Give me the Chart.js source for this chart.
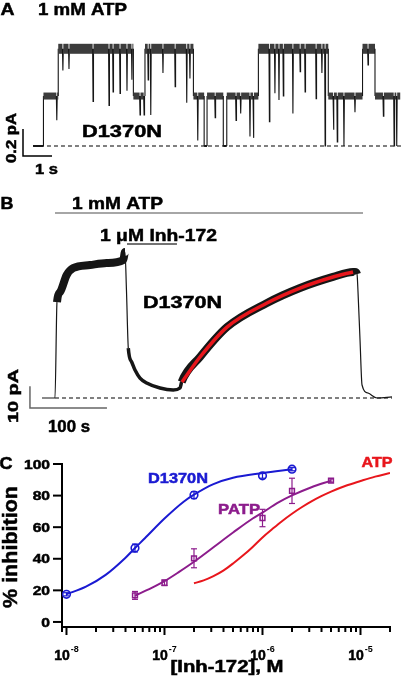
<!DOCTYPE html>
<html lang="en">
<head>
<meta charset="UTF-8">
<title>D1370N and Inh-172</title>
<script src="https://cdn.jsdelivr.net/npm/chart.js@4.4.1/dist/chart.umd.min.js"></script>
<style>
  body { margin: 0; background: #fff; }
  #fig { position: relative; width: 404px; height: 677px; overflow: hidden; }
  canvas { position: absolute; left: 0; }
</style>
</head>
<body>
<div id="fig">
  <canvas id="panelA" width="404" height="175" style="top:0"></canvas>
  <canvas id="panelB" width="404" height="260" style="top:175px"></canvas>
  <canvas id="panelC" width="404" height="242" style="top:435px"></canvas>
</div>
<script>
// ---- A: single channel record, time in s, current in pA ----
const aDwellStart = [0, 0.36, 0.87, 3.46, 3.86, 5.53, 5.90, 6.00, 6.56, 6.68, 7.77, 10.18, 11.36, 11.79];
const aDwellEnd   = [0.36, 0.87, 3.46, 3.86, 5.53, 5.90, 6.00, 6.56, 6.68, 7.77, 10.18, 11.36, 11.79, 12.66];
const aDwellLevel = [0, 0.37, 0.72, 0.37, 0.72, 0.37, 0, 0.37, 0, 0.37, 0.72, 0.37, 0.72, 0.37];
// brief closures: time and the current they dip to
const aFlickTime  = [0.82, 1.03, 1.24, 2.07, 2.62, 2.76, 3.00, 3.24, 3.41, 3.69, 3.83, 3.97, 4.06, 4.48,
                     4.90, 5.30, 5.41, 5.68, 6.28, 7.00, 7.16, 7.48, 7.60, 8.15, 8.34, 8.48, 8.63, 8.96,
                     9.21, 9.38, 9.76, 9.96, 10.07, 10.36, 10.49, 10.72, 11.10, 11.55, 12.08, 12.45, 12.54];
const aFlickDepth = [0.19, 0.56, 0.57, 0.33, 0.30, 0.40, 0.39, 0.41, 0.49, 0.23, 0.23, 0.49, 0.23, 0.54,
                     0.44, 0.32, 0.50, 0.04, 0.21, 0.19, 0.24, 0.07, 0.06, 0.18, 0.39, 0.34, 0.37, 0.24,
                     0.55, 0.40, 0.35, 0.54, 0.00, 0.12, 0.03, 0.00, 0.25, 0.60, 0.22, 0.00, 0.00];
const aBarTime = 1;      // s
const aBarCurrent = 0.2; // pA

// ---- B: macroscopic current, time in s, current in pA ----
const bTime    = [0, 16.9, 19.5, 23.4, 32.1, 40.6, 62.3, 84.0, 105.6, 107.8, 109.7, 112.1, 116.5, 120.8,
                  127.3, 136.0, 153.2, 170.5, 179.2, 181.4, 205.2, 240.3, 292.2, 335.1, 377.9, 403.9,
                  406.5, 409.1, 410.4, 413.0, 415.6, 423.4, 435.1, 454.5];
const bCurrent = [0, 0, 44.2, 48.8, 56.7, 59.9, 61.3, 62.2, 63.6, 67.3, 49.8, 23.0, 16.6, 12.9,
                  9.2, 6.9, 4.6, 3.7, 4.6, 7.4, 18.9, 32.7, 43.8, 50.7, 55.8, 58.1,
                  58.1, 57.1, 48.8, 26.7, 6.0, 2.3, 0, 0.5];
const bFitTime    = [181.8, 205.2, 240.3, 292.2, 335.1, 377.9, 403.9];
const bFitCurrent = [7.4, 18.9, 32.7, 43.8, 50.7, 55.8, 58.1];
const bAtpOn = 16.9, bAtpOff = 416.9;
const bInhOn = 110.4, bInhOff = 175.3;
const bBarTime = 100, bBarCurrent = 10;

// ---- C: dose response, % inhibition vs [Inh-172] (M) ----
const cD1370NConc = [1e-8, 5e-8, 2e-7, 1e-6, 2e-6];
const cD1370N     = [17.5, 46.8, 80.3, 92.5, 96.7];
const cD1370NErr  = [1, 2.5, 2.2, 1.5, 1];
const cPatpConc   = [5e-8, 1e-7, 2e-7, 1e-6, 2e-6, 5e-6];
const cPatp       = [16.8, 24.8, 40.3, 65.8, 83, 89.5];
const cPatpErr    = [2.5, 1.8, 6, 5.5, 8, 1];
const cD1370NFitConc = [1e-8, 1.58e-8, 2.51e-8, 3.98e-8, 5e-8, 6.31e-8, 1e-7, 1.58e-7, 2e-7, 3.16e-7, 5.01e-7, 1e-6, 2e-6];
const cD1370NFit     = [17.5, 22.3, 29.8, 40.5, 46.8, 53, 65.5, 76.3, 80.6, 87.3, 91.3, 94.3, 96.7];
const cPatpFitConc = [5e-8, 7.94e-8, 1e-7, 1.41e-7, 2e-7, 3.16e-7, 5.01e-7, 7.94e-7, 1e-6, 1.41e-6, 2e-6, 3.16e-6, 5e-6];
const cPatpFit     = [16.6, 22.5, 25.8, 31.7, 38.1, 47.3, 56.6, 65.5, 69.2, 75.2, 80.1, 85.3, 89.5];
const cAtpFitConc = [2e-7, 2.51e-7, 3.16e-7, 3.98e-7, 5.01e-7, 6.31e-7, 7.94e-7, 1e-6, 1.26e-6, 1.58e-6,
                     2e-6, 2.51e-6, 3.16e-6, 3.98e-6, 5.01e-6, 7.08e-6, 1e-5, 1.41e-5, 2e-5];
const cAtpFit     = [24.5, 26.3, 29, 32.5, 37, 42, 47.5, 53.5, 58.8, 63.8,
                     68.5, 72.6, 76.3, 79.6, 82.5, 86.2, 89.2, 92, 94.3];
const cYTicks = [0, 20, 40, 60, 80, 100];
const cXMajor = [1e-8, 1e-7, 1e-6, 1e-5];

const INK = '#161616';
const BLUE = '#1a1ad2', PURPLE = '#8c1c8c', RED = '#e8161c';
const FONT = '"Liberation Sans", Arial, sans-serif';

function pairs(xs, ys) { return xs.map((x, i) => ({ x: x, y: ys[i] })); }

function scaleBar(x0, y0, dx, dy) {
  return [{ x: x0, y: y0 + dy }, { x: x0, y: y0 }, { x: x0 + dx, y: y0 }];
}

function drawText(ctx, txt, cx, cy, size, opt) {
  opt = opt || {};
  ctx.save();
  ctx.font = 'bold ' + size + 'px ' + FONT;
  ctx.fillStyle = opt.color || '#000';
  ctx.strokeStyle = opt.color || '#000';
  ctx.lineWidth = 0.5;
  ctx.textAlign = 'center';
  ctx.textBaseline = 'alphabetic';
  const w = ctx.measureText(txt).width;
  const s = opt.width ? opt.width / w : (opt.sx || 1);
  let x = cx;
  if (opt.right !== undefined) x = opt.right - w * s / 2;
  ctx.translate(x, cy);
  if (opt.rot) ctx.rotate(opt.rot);
  ctx.scale(s, 1);
  ctx.fillText(txt, 0, size * 0.36);
  ctx.strokeText(txt, 0, size * 0.36);
  ctx.restore();
}

function traceOptions(xmin, xmax, ymin, ymax) {
  return {
    responsive: false, animation: false, events: [],
    layout: { padding: 0 },
    plugins: { legend: { display: false }, tooltip: { enabled: false } },
    elements: { point: { radius: 0 } },
    scales: {
      x: { type: 'linear', display: false, min: xmin, max: xmax },
      y: { type: 'linear', display: false, min: ymin, max: ymax }
    }
  };
}

// ---------- panel A ----------
function buildTraceA() {
  const pts = [];
  aDwellStart.forEach((s, i) => {
    const lv = aDwellLevel[i];
    pts.push({ x: s, y: lv });
    aFlickTime.forEach((t, k) => {
      if (t > s && t < aDwellEnd[i]) {
        pts.push({ x: t - 0.015, y: lv }, { x: t, y: aFlickDepth[k] }, { x: t + 0.015, y: lv });
      }
    });
    pts.push({ x: aDwellEnd[i], y: lv });
  });
  return pts;
}

new Chart(document.getElementById('panelA'), {
  type: 'line',
  data: {
    datasets: [
      {
        data: buildTraceA(), borderColor: INK, borderWidth: 1.1, tension: 0,
        segment: {
          borderWidth: c => {
            const y0 = c.p0.parsed.y;
            if (y0 !== c.p1.parsed.y) return 1.1;
            return y0 > 0.5 ? 10 : (y0 > 0.2 ? 7 : 2);
          },
          borderColor: c => (c.p0.parsed.y === c.p1.parsed.y && c.p0.parsed.y > 0.2 ? '#3c3c3c' : INK)
        }
      },
      { data: [{ x: 0.24, y: 0 }, { x: 12.8, y: 0 }], borderColor: '#000', borderWidth: 1.2, borderDash: [4, 3] },
      { data: scaleBar(-0.345, -0.074, aBarTime, aBarCurrent), borderColor: '#000', borderWidth: 1.5 }
    ]
  },
  options: traceOptions(-1.138, 12.79, -0.215, 1.0815),
  plugins: [{
    id: 'labelsA',
    afterDraw(chart) {
      const ctx = chart.ctx;
      drawText(ctx, 'A', 7.5, 9, 17, { width: 14 });
      drawText(ctx, '1 mM ATP', 82.5, 9, 17, { width: 89 });
      drawText(ctx, 'D1370N', 122, 131, 17, { width: 80 });
      drawText(ctx, '0.2 pA', 11, 138, 14, { width: 50, rot: -Math.PI / 2 });
      drawText(ctx, '1 s', 46.5, 169, 15, { width: 23 });
    }
  }]
});

// ---------- panel B ----------
new Chart(document.getElementById('panelB'), {
  type: 'line',
  data: {
    datasets: [
      { data: pairs(bFitTime, bFitCurrent), borderColor: RED, borderWidth: 3.5, cubicInterpolationMode: 'monotone' },
      {
        data: pairs(bTime, bCurrent), borderColor: INK, borderWidth: 1.2, cubicInterpolationMode: 'monotone',
        segment: {
          borderWidth: c => {
            const a = c.p0.parsed, b = c.p1.parsed;
            const lo = Math.min(a.y, b.y);
            const slope = Math.abs((b.y - a.y) / (b.x - a.x));
            if (slope > 2 || lo < 3) return 1.2;
            if ((b.y >= a.y && lo > 6) || lo > 40) return 8;
            return 3.5;
          }
        }
      },
      { data: [{ x: 16.9, y: 0 }, { x: 454.5, y: 0 }], borderColor: '#000', borderWidth: 1.2, borderDash: [4, 3] },
      { data: [{ x: bAtpOn, y: 85.3 }, { x: bAtpOff, y: 85.3 }], borderColor: '#888', borderWidth: 1.5 },
      { data: [{ x: bInhOn, y: 71.0 }, { x: bInhOff, y: 71.0 }], borderColor: '#444', borderWidth: 1.3 },
      { data: scaleBar(-15.6, -4.6, bBarTime, bBarCurrent), borderColor: '#666', borderWidth: 1.5 }
    ]
  },
  options: traceOptions(-54.5, 470.1, -17.05, 102.8),
  plugins: [{
    id: 'labelsB',
    afterDraw(chart) {
      const ctx = chart.ctx;
      drawText(ctx, 'B', 7, 28, 17, { width: 13 });
      drawText(ctx, '1 mM ATP', 117.5, 28, 17, { width: 91 });
      drawText(ctx, '1 \u03bcM Inh-172', 158.5, 60, 17, { width: 117 });
      drawText(ctx, 'D1370N', 182.5, 126.5, 17, { width: 79 });
      drawText(ctx, '10 pA', 13, 221, 15, { width: 54, rot: -Math.PI / 2 });
      drawText(ctx, '100 s', 69, 251, 17, { width: 42 });
    }
  }]
});

// ---------- panel C ----------
function line(ctx, x0, y0, x1, y1) {
  ctx.beginPath(); ctx.moveTo(x0, y0); ctx.lineTo(x1, y1); ctx.stroke();
}

const errorBars = {
  id: 'errorBars',
  afterDatasetsDraw(chart) {
    const ctx = chart.ctx, xs = chart.scales.x, ys = chart.scales.y;
    chart.data.datasets.forEach(ds => {
      if (!ds.errors) return;
      ctx.save();
      ctx.strokeStyle = ds.borderColor;
      ctx.lineWidth = 1.2;
      ds.data.forEach((p, i) => {
        const x = xs.getPixelForValue(p.x);
        const yt = ys.getPixelForValue(p.y + ds.errors[i]);
        const yb = ys.getPixelForValue(p.y - ds.errors[i]);
        line(ctx, x, yt, x, yb);
        line(ctx, x - 3, yt, x + 3, yt);
        line(ctx, x - 3, yb, x + 3, yb);
      });
      ctx.restore();
    });
  }
};

const axesC = {
  id: 'axesC',
  afterDraw(chart) {
    const ctx = chart.ctx, xs = chart.scales.x, ys = chart.scales.y;
    const left = chart.chartArea.left, bottom = chart.chartArea.bottom;
    ctx.save();
    ctx.strokeStyle = '#000';
    ctx.lineWidth = 2;
    cYTicks.forEach(v => {
      const y = ys.getPixelForValue(v);
      line(ctx, left - 9, y, left, y);
      drawText(ctx, String(v), 0, y, 13, { sx: 1.2, right: 50 });
    });
    ctx.strokeStyle = '#000';
    ctx.lineWidth = 2;
    for (let n = -9; n <= -5; n++) {
      for (let k = 1; k <= 9; k++) {
        const v = k * Math.pow(10, n);
        if (v < xs.min * 0.999 || v > xs.max * 1.001) continue;
        const x = xs.getPixelForValue(v);
        line(ctx, x, bottom, x, bottom + (k === 1 ? 8 : 5));
      }
    }
    ctx.fillStyle = '#000';
    ctx.strokeStyle = '#000';
    ctx.lineWidth = 0.5;
    ctx.textAlign = 'left';
    ctx.textBaseline = 'alphabetic';
    cXMajor.forEach(v => {
      const x = xs.getPixelForValue(v);
      const e = String(Math.round(Math.log10(v)));
      ctx.font = 'bold 14px ' + FONT;
      const w10 = ctx.measureText('10').width;
      ctx.font = 'bold 9px ' + FONT;
      const we = ctx.measureText(e).width;
      const x0 = x - (w10 + we + 1) / 2;
      ctx.font = 'bold 14px ' + FONT;
      ctx.fillText('10', x0, 225);
      ctx.strokeText('10', x0, 225);
      ctx.font = 'bold 9px ' + FONT;
      ctx.fillText(e, x0 + w10 + 1, 217);
    });
    ctx.restore();
    drawText(ctx, '[Inh-172], M', 227, 231, 16, { width: 113 });
    drawText(ctx, '% inhibition', 10, 112, 20, { width: 122, rot: -Math.PI / 2 });
    drawText(ctx, 'C', 6, 28, 17, { width: 13 });
    drawText(ctx, 'D1370N', 178, 42.5, 15, { width: 60, color: BLUE });
    drawText(ctx, 'PATP', 239, 73.5, 15, { width: 42, color: PURPLE });
    drawText(ctx, 'ATP', 377, 26.5, 15, { width: 31, color: RED });
  }
};

new Chart(document.getElementById('panelC'), {
  type: 'line',
  data: {
    datasets: [
      { data: pairs(cD1370NConc, cD1370N), errors: cD1370NErr, showLine: false, borderColor: BLUE,
        backgroundColor: 'rgba(0,0,0,0)', pointStyle: 'circle', pointRadius: 3.8, borderWidth: 1.6 },
      { data: pairs(cPatpConc, cPatp), errors: cPatpErr, showLine: false, borderColor: PURPLE,
        backgroundColor: 'rgba(0,0,0,0)', pointStyle: 'rect', pointRadius: 3.4, borderWidth: 1.5 },
      { data: pairs(cD1370NFitConc, cD1370NFit), borderColor: BLUE, borderWidth: 2, pointRadius: 0, cubicInterpolationMode: 'monotone' },
      { data: pairs(cPatpFitConc, cPatpFit), borderColor: PURPLE, borderWidth: 2, pointRadius: 0, cubicInterpolationMode: 'monotone' },
      { data: pairs(cAtpFitConc, cAtpFit), borderColor: RED, borderWidth: 2, pointRadius: 0, cubicInterpolationMode: 'monotone' }
    ]
  },
  options: {
    responsive: false, animation: false, events: [],
    layout: { padding: { top: 29, right: 14, left: 0, bottom: 0 } },
    plugins: { legend: { display: false }, tooltip: { enabled: false } },
    scales: {
      x: {
        type: 'logarithmic', min: 9e-9, max: 2e-5,
        grid: { display: false }, ticks: { display: false },
        border: { display: true, color: '#000', width: 2 },
        afterFit(s) { s.height = 50; }
      },
      y: {
        type: 'linear', min: -3.2, max: 100,
        grid: { display: false }, ticks: { display: false },
        border: { display: true, color: '#000', width: 2 },
        afterFit(s) { s.width = 62; }
      }
    }
  },
  plugins: [errorBars, axesC]
});
</script>
</body>
</html>
